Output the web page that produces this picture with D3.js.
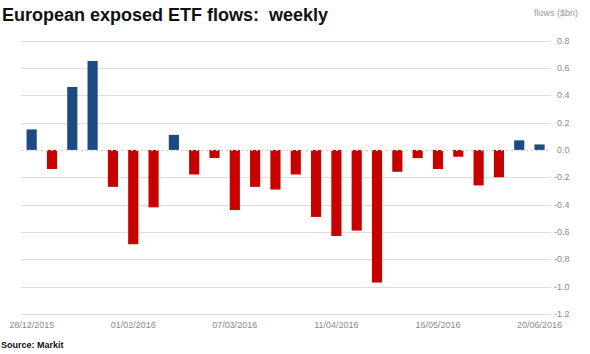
<!DOCTYPE html>
<html>
<head>
<meta charset="utf-8">
<script src="https://cdn.jsdelivr.net/npm/d3@7"></script>
<style>
  body { margin: 0; background: #fff; }
  svg { font-family: "Liberation Sans", Arial, sans-serif; display: block; }
</style>
</head>
<body>
<svg id="chart"></svg>
<script>
// weekly flows, $bn
const weeks = ["28/12/2015", "04/01/2016", "11/01/2016", "18/01/2016", "25/01/2016",
  "01/02/2016", "08/02/2016", "15/02/2016", "22/02/2016", "29/02/2016",
  "07/03/2016", "14/03/2016", "21/03/2016", "28/03/2016", "04/04/2016",
  "11/04/2016", "18/04/2016", "25/04/2016", "02/05/2016", "09/05/2016",
  "16/05/2016", "23/05/2016", "30/05/2016", "06/06/2016", "13/06/2016",
  "20/06/2016"];
const flows = [0.15, -0.14, 0.46, 0.65, -0.27,
  -0.69, -0.42, 0.11, -0.18, -0.06,
  -0.44, -0.27, -0.29, -0.18, -0.49,
  -0.63, -0.59, -0.97, -0.16, -0.06,
  -0.14, -0.05, -0.26, -0.20, 0.07,
  0.04];
const yTicks = [0.8, 0.6, 0.4, 0.2, 0.0, -0.2, -0.4, -0.6, -0.8, -1.0, -1.2];
const xLabels = ["28/12/2015", "01/02/2016", "07/03/2016", "11/04/2016", "16/05/2016", "20/06/2016"];

const width = 590, height = 354;
const svg = d3.select("#chart").attr("width", width).attr("height", height);

const x = d3.scaleBand().domain(weeks).range([21.5, 549.7]).paddingInner(0.5).paddingOuter(0.25);
const y = d3.scaleLinear().domain([-1.2, 0.8]).range([314, 40.5]);

// gridlines
svg.append("g").selectAll("line")
  .data(yTicks.filter(d => d !== 0))
  .join("line")
  .attr("x1", 21).attr("x2", 551)
  .attr("y1", d => Math.round(y(d)) + 0.5).attr("y2", d => Math.round(y(d)) + 0.5)
  .attr("stroke", "#dcdcdc");

// y tick labels on the right
svg.append("g").selectAll("text")
  .data(yTicks)
  .join("text")
  .attr("x", d => d < 0 ? 554 : 557)
  .attr("y", d => y(d) + 3)
  .attr("font-size", 9)
  .attr("fill", "#8a8a8a")
  .text(d => d3.format(".1f")(d).replace("−", "-"));

// bars
svg.append("g").selectAll("rect")
  .data(flows)
  .join("rect")
  .attr("x", (d, i) => x(weeks[i]))
  .attr("width", x.bandwidth())
  .attr("y", d => y(Math.max(0, d)))
  .attr("height", d => Math.abs(y(d) - y(0)))
  .attr("fill", d => d >= 0 ? "#1d4a85" : "#c70000");

// zero line
svg.append("line")
  .attr("x1", 21).attr("x2", 551)
  .attr("y1", Math.round(y(0)) + 0.5).attr("y2", Math.round(y(0)) + 0.5)
  .attr("stroke", "#cfcfcf")
  .attr("stroke-dasharray", "2,3");

// x labels
svg.append("g").selectAll("text")
  .data(xLabels)
  .join("text")
  .attr("x", d => x(d) + x.bandwidth() / 2)
  .attr("y", 328)
  .attr("text-anchor", "middle")
  .attr("font-size", 9)
  .attr("fill", "#8a8a8a")
  .text(d => d);

// title, unit, source
svg.append("text")
  .attr("x", 2).attr("y", 21)
  .attr("font-size", 18).attr("font-weight", "bold").attr("fill", "#111")
  .style("white-space", "pre")
  .text("European exposed ETF flows:  weekly");

svg.append("text")
  .attr("x", 578).attr("y", 16)
  .attr("text-anchor", "end")
  .attr("font-size", 9).attr("fill", "#999")
  .text("flows ($bn)");

svg.append("text")
  .attr("x", 1).attr("y", 348)
  .attr("font-size", 9).attr("font-weight", "bold").attr("fill", "#111")
  .text("Source: Markit");
</script>
</body>
</html>
